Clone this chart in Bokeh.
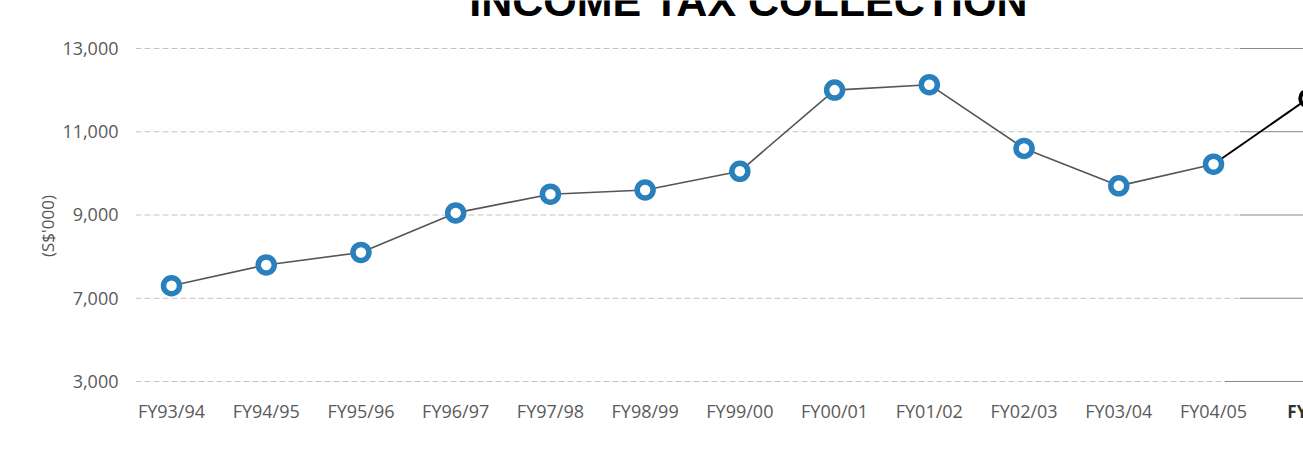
from bokeh.plotting import figure
from bokeh.models import Range1d, FixedTicker
from bokeh.core.properties import value
from bokeh.embed import file_html
from bokeh.resources import INLINE

# ---- data ----
categories = ["FY93/94", "FY94/95", "FY95/96", "FY96/97", "FY97/98", "FY98/99",
              "FY99/00", "FY00/01", "FY01/02", "FY02/03", "FY03/04", "FY04/05", "FY05/06"]
collection = [7300, 7800, 8100, 9050, 9500, 9600, 10050, 12000, 12130, 10600, 9700, 10220, 11800]
y_tick_values = [5000, 7000, 9000, 11000, 13000]
y_tick_labels = ["3,000", "7,000", "9,000", "11,000", "13,000"]
title_text = "INCOME TAX COLLECTION"
y_axis_title = "(S$'000)"

idx = list(range(len(categories)))
n_main = 12  # points of the main (blue) series

p = figure(width=1303, height=451, output_backend="svg", toolbar_location=None,
           x_range=Range1d(-0.38, 11.95), y_range=Range1d(3318, 14153),
           min_border_left=135, min_border_right=0, min_border_top=0, min_border_bottom=0)
p.outline_line_color = None
p.background_fill_color = "white"
p.border_fill_color = "white"
p.xgrid.visible = False
p.ygrid.visible = False
p.xaxis.visible = False

# y axis
p.yaxis.ticker = FixedTicker(ticks=y_tick_values)
p.yaxis.major_label_overrides = {v: l for v, l in zip(y_tick_values, y_tick_labels)}
ax = p.yaxis[0]
ax.axis_line_color = None
ax.major_tick_line_color = None
ax.minor_tick_line_color = None
ax.major_label_text_font = "Open Sans"
ax.major_label_text_font_size = "18px"
ax.major_label_text_color = "#5a5a5a"
ax.major_label_standoff = 11
ax.axis_label = y_axis_title
ax.axis_label_text_font = "Open Sans"
ax.axis_label_text_font_style = "normal"
ax.axis_label_text_font_size = "17px"
ax.axis_label_text_color = "#555555"
ax.axis_label_standoff = 0

# gridlines: dashed part and dotted overlay part on the right
x0 = p.x_range.start
x1 = p.x_range.end
dash_end = [11.127 if v == y_tick_values[0] else 11.285 for v in y_tick_values]
p.segment(x0=[x0] * len(y_tick_values), x1=dash_end, y0=y_tick_values, y1=y_tick_values,
          line_color="#c4c4c4", line_width=1.2, line_dash="6 3")
p.segment(x0=dash_end, x1=[x1 + 1] * len(y_tick_values), y0=y_tick_values, y1=y_tick_values,
          line_color="#111111", line_width=1, line_dash="1 1")

# lines
p.line(idx[:n_main], collection[:n_main], line_color="#555555", line_width=1.6)
p.line(idx[n_main - 1:], collection[n_main - 1:], line_color="#000000", line_width=2)

# markers
p.scatter(idx[:n_main], collection[:n_main], size=16, fill_color="white",
          line_color="#2a7fbd", line_width=5.5)
p.scatter(idx[n_main:], collection[n_main:], size=16, fill_color="white",
          line_color="#000000", line_width=4)

# category labels (below the lowest gridline)
label_y = y_tick_values[0] - 720
p.text(x=idx[:n_main], y=[label_y] * n_main, text=categories[:n_main],
       text_align="center", text_baseline="middle", text_font=value("Open Sans"),
       text_font_size="18px", text_color="#5a5a5a")
p.text(x=idx[n_main:], y=[label_y], text=categories[n_main:], x_offset=12,
       text_align="center", text_baseline="middle", text_font=value("Open Sans"),
       text_font_style="bold", text_font_size="17px", text_color="#333333")

# title (cut at the top as in the original)
p.text(x=[6.09], y=[14129], text=[title_text], text_align="center",
       text_baseline="alphabetic", text_font=value("Liberation Sans"),
       text_font_style="bold", text_font_size="43px", text_color="#000000")

open("out.html", "w").write(file_html(p, INLINE))
